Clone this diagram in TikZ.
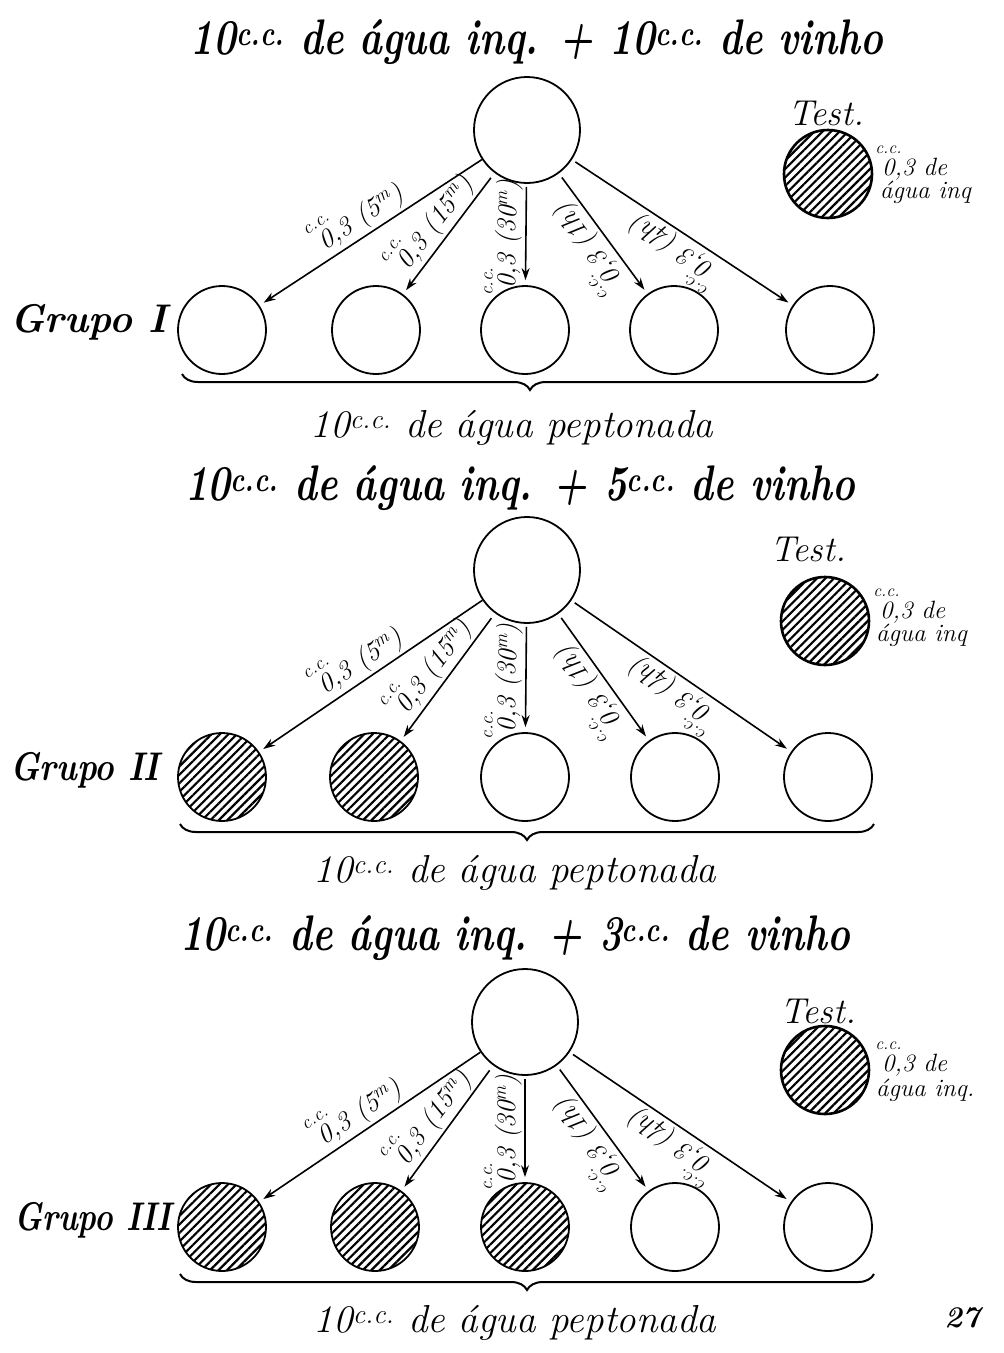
\documentclass[tikz,border=0pt]{standalone}
\usepackage{amsmath}
\usetikzlibrary{arrows.meta,patterns.meta,decorations.pathreplacing}
\newcommand{\zcc}{\ensuremath{\overset{\text{\makebox[0pt]{c.c.}}}{\text{0}}}}
\newcommand{\cc}{\textsuperscript{c.c.}}
\newcommand{\narrow}[2]{\scalebox{#1}[1]{#2}}
\tikzset{
  vessel/.style={circle, draw, line width=1.8pt, minimum size=88pt, inner sep=0pt},
  bigvessel/.style={vessel, minimum size=106pt},
  hatched/.style={line width=2.6pt, pattern={Lines[angle=45,distance=6pt,line width=2.2pt]}},
  feed/.style={line width=1.6pt, -{Stealth[length=12pt,width=8pt]}, shorten >=5pt},
  lab/.style={font=\fontsize{27}{28}\selectfont\itshape, sloped, above=2pt, allow upside down, pos=0.5, inner sep=1pt},
  title/.style={font=\fontsize{50}{54}\selectfont\bfseries\itshape},
  grp/.style={font=\fontsize{40}{44}\selectfont\bfseries\itshape, anchor=west, inner sep=0pt},
  pept/.style={font=\fontsize{39}{42}\selectfont\itshape},
  testt/.style={font=\fontsize{36}{38}\selectfont\itshape},
  small/.style={font=\fontsize{25}{27}\selectfont\itshape, anchor=west, inner sep=0pt},
  bracest/.style={decorate, decoration={brace, mirror, amplitude=16pt}, line width=2pt}
}
\begin{document}
\begin{tikzpicture}[x=1pt,y=-1pt]
\fill[white] (0,0) rectangle (1004,1353);
\useasboundingbox (0,0) rectangle (1004,1353);

% ---------- Group I ----------
\node[title] (t1) at (537,42) {\narrow{0.77}{10\cc\ de água inq. + 10\cc\ de vinho}};
\node[bigvessel] (p1) at (527,130) {};
\node[testt] (tt1) at (826,113) {Test.};
\node[vessel, hatched] (tc1) at (828,174) {};
\node[small] (tn1) at (882,162) {\zcc,3 de};
\node[small] (ta1) at (880,192) {água inq};
\node[grp] (g1) at (10,322) {\narrow{0.97}{Grupo I}};
\foreach \i/\x in {1/222,2/376,3/525,4/674,5/830}
  \node[vessel] (a\i) at (\x,330) {};
\draw[feed] (p1) -- (a1);
\draw[feed, shorten <=6pt] (p1) -- (a2);
\draw[feed, shorten <=3pt] (p1) -- (a3);
\draw[feed, shorten <=5pt] (p1) -- (a4);
\draw[feed, shorten <=4pt] (p1) -- (a5);
\path (a1) -- (p1) node[lab] (l11) {\zcc,3 (5\textsuperscript{m})};
\path (a2) -- (p1) node[lab] (l12) {\zcc,3 (15\textsuperscript{m})};
\path (a3) -- (p1) node[lab] (l13) {\zcc,3 (30\textsuperscript{m})};
\path (a4) -- (p1) node[lab] (l14) {\zcc,3 (1h)};
\path (a5) -- (p1) node[lab] (l15) {\zcc,3 (4h)};
\coordinate (b1l) at (182,374);
\coordinate (b1r) at (878,374);
\draw[bracest] (b1l) -- (b1r);
\node[pept] (n1) at (512,428) {10\cc\ de água peptonada};

% ---------- Group II ----------
\node[title] (t2) at (520,488) {\narrow{0.77}{10\cc\ de água inq. + 5\cc\ de vinho}};
\node[bigvessel] (p2) at (527,570) {};
\node[testt] (tt2) at (808,549) {Test.};
\node[vessel, hatched] (tc2) at (825,621) {};
\node[small] (tn2) at (880,605) {\zcc,3 de};
\node[small] (ta2) at (876,635) {água inq};
\node[grp] (g2) at (10,770) {\narrow{0.83}{Grupo II}};
\foreach \i/\x in {1/222,2/374,3/525,4/675,5/828}
  \node[vessel] (b\i) at (\x,777) {};
\path[hatched] (b1) circle (44pt) (b2) circle (44pt);
\draw[feed] (p2) -- (b1);
\draw[feed, shorten <=6pt] (p2) -- (b2);
\draw[feed, shorten <=3pt] (p2) -- (b3);
\draw[feed, shorten <=5pt] (p2) -- (b4);
\draw[feed, shorten <=4pt] (p2) -- (b5);
\path (b1) -- (p2) node[lab] (l21) {\zcc,3 (5\textsuperscript{m})};
\path (b2) -- (p2) node[lab] (l22) {\zcc,3 (15\textsuperscript{m})};
\path (b3) -- (p2) node[lab] (l23) {\zcc,3 (30\textsuperscript{m})};
\path (b4) -- (p2) node[lab] (l24) {\zcc,3 (1h)};
\path (b5) -- (p2) node[lab] (l25) {\zcc,3 (4h)};
\coordinate (b2l) at (180,824);
\coordinate (b2r) at (874,824);
\draw[bracest] (b2l) -- (b2r);
\node[pept] (n2) at (515,873) {10\cc\ de água peptonada};

% ---------- Group III ----------
\node[title] (t3) at (515,938) {\narrow{0.77}{10\cc\ de água inq. + 3\cc\ de vinho}};
\node[bigvessel] (p3) at (525,1022) {};
\node[testt] (tt3) at (818,1011) {Test.};
\node[vessel, hatched] (tc3) at (825,1070) {};
\node[small] (tn3) at (882,1058) {\zcc,3 de};
\node[small] (ta3) at (876,1090) {água inq.};
\node[grp] (g3) at (14,1220) {\narrow{0.79}{Grupo III}};
\foreach \i/\x in {1/222,2/375,3/525,4/675,5/828}
  \node[vessel] (c\i) at (\x,1227) {};
\path[hatched] (c1) circle (44pt) (c2) circle (44pt) (c3) circle (44pt);
\draw[feed] (p3) -- (c1);
\draw[feed, shorten <=6pt] (p3) -- (c2);
\draw[feed, shorten <=3pt] (p3) -- (c3);
\draw[feed, shorten <=5pt] (p3) -- (c4);
\draw[feed, shorten <=4pt] (p3) -- (c5);
\path (c1) -- (p3) node[lab] (l31) {\zcc,3 (5\textsuperscript{m})};
\path (c2) -- (p3) node[lab] (l32) {\zcc,3 (15\textsuperscript{m})};
\path (c3) -- (p3) node[lab] (l33) {\zcc,3 (30\textsuperscript{m})};
\path (c4) -- (p3) node[lab] (l34) {\zcc,3 (1h)};
\path (c5) -- (p3) node[lab] (l35) {\zcc,3 (4h)};
\coordinate (b3l) at (180,1274);
\coordinate (b3r) at (874,1274);
\draw[bracest] (b3l) -- (b3r);
\node[pept] (n3) at (515,1323) {10\cc\ de água peptonada};

\node[font=\fontsize{30}{32}\selectfont\bfseries\itshape] (pg) at (962,1318) {27};
\end{tikzpicture}
\end{document}
